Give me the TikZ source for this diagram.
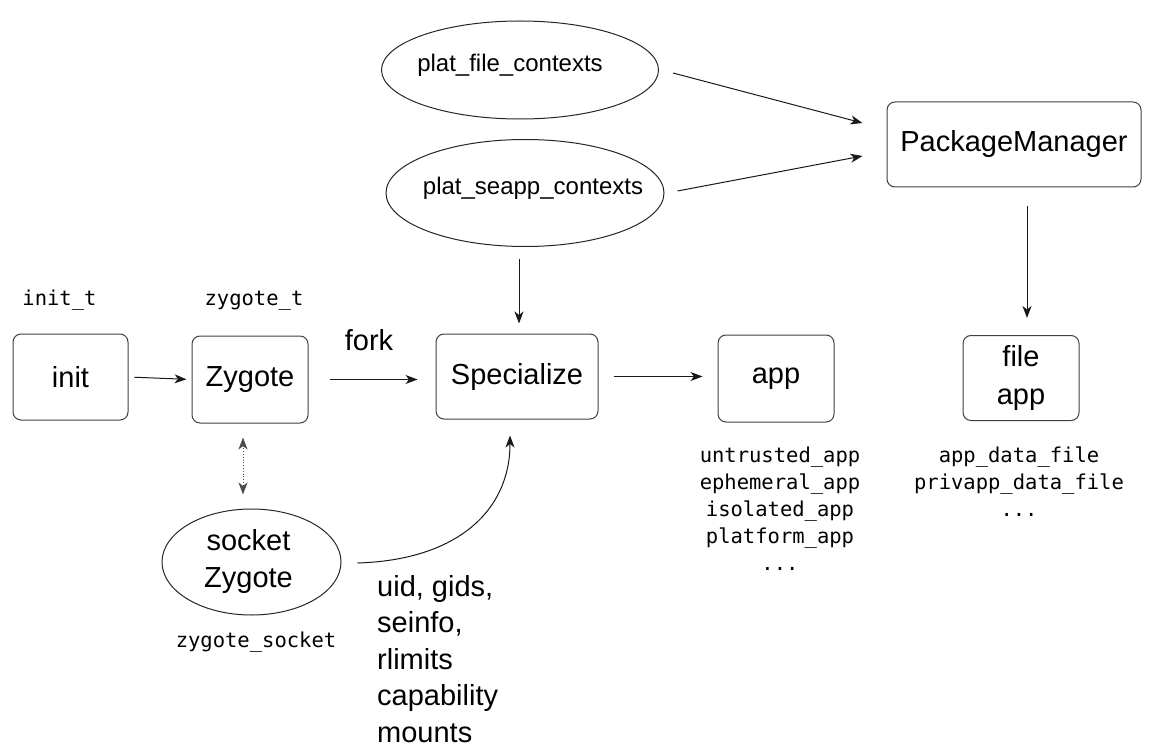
\documentclass[tikz,border=0pt]{standalone}
\usepackage{fontspec}
\setmainfont{Liberation Sans}
\newfontfamily\monof{DejaVu Sans Mono}
\usetikzlibrary{arrows.meta,shapes.geometric,calc}
\tikzset{
  box/.style={draw=black!75, line width=1pt, rounded corners=8pt, inner sep=0pt,
    font=\fontsize{29}{38}\selectfont, align=center},
  ell/.style={draw=black!85, line width=1pt, ellipse, inner sep=0pt},
  big/.style={font=\fontsize{29}{36.5}\selectfont, inner sep=0pt, align=left},
  mid/.style={font=\fontsize{24}{30}\selectfont, inner sep=0pt},
  mono/.style={font=\monof\fontsize{20.5}{27}\selectfont, inner sep=0pt, align=center},
  arr/.style={draw=black!90, line width=1pt, -{Stealth[length=12pt,width=9pt,inset=3.5pt]}},
  darr/.style={draw=black!70, line width=0.8pt, dotted,
    {Stealth[length=12pt,width=9pt,inset=3.5pt]}-{Stealth[length=12pt,width=9pt,inset=3.5pt]}}
}
\begin{document}
\begin{tikzpicture}[x=1pt,y=-1pt]
\useasboundingbox (0,0) rectangle (1153,746);
% boxes
\node[box, minimum width=115pt, minimum height=86pt] (init) at (70.5,377) {init};
\node[box, minimum width=116pt, minimum height=87pt] (zyg) at (250,379.5) {Zygote};
\node[box, minimum width=162pt, minimum height=85pt] (spec) at (517,376.5) {Specialize};
\node[box, minimum width=116pt, minimum height=87pt] (app) at (776,378.5) {app};
\node[box, minimum width=116pt, minimum height=85pt] (fapp) at (1021,378) {file\\app};
\node[box, minimum width=254pt, minimum height=85pt] (pm) at (1014,144.5) {PackageManager};
% ellipses
\node[ell, minimum width=277pt, minimum height=98pt] (e1) at (520,70) {};
\node[mid, anchor=base] (t1) at (510,72) {plat\_file\_contexts};
\node[ell, minimum width=278pt, minimum height=107pt] (e2) at (525,193) {};
\node[mid, anchor=base] (t2) at (533,195) {plat\_seapp\_contexts};
\node[ell, minimum width=179pt, minimum height=106pt] (sock) at (251.5,562) {};
\node[big, align=center, anchor=base] (tsock) at (248.5,587) {socket\\Zygote};
% labels
\node[mono, anchor=base] (linit) at (59.5,305) {init\_t};
\node[mono, anchor=base] (lzyg) at (254,305) {zygote\_t};
\node[mono, anchor=base] (lsock) at (256,647) {zygote\_socket};
\node[big, anchor=base] (fork) at (369,350) {fork};
\node[mono, anchor=base] (lapp) at (780,570) {untrusted\_app\\ephemeral\_app\\isolated\_app\\platform\_app\\...};
\node[mono, anchor=base] (lfile) at (1019,516) {app\_data\_file\\privapp\_data\_file\\...};
\node[big, anchor=base west] (uid) at (377,742) {uid, gids,\\seinfo,\\rlimits\\capability\\mounts};
% connectors
\draw[arr, shorten <=6pt, shorten >=5pt] (init.east) -- (zyg.west);
\draw[arr, shorten <=21pt, shorten >=18pt] (zyg.east) -- (zyg.east -| spec.west);
\draw[arr, shorten <=15pt, shorten >=15pt] (spec.east) -- (spec.east -| app.west);
\draw[arr] ([xshift=14pt,yshift=-3pt]e1.east) -- ([xshift=-24pt,yshift=21.5pt]pm.west);
\draw[arr] ([xshift=13pt,yshift=2pt]e2.east) -- ([xshift=-24pt,yshift=-11.5pt]pm.west);
\draw[arr] ([xshift=6pt,yshift=-18pt]fapp.north |- pm.south) -- ([xshift=6pt,yshift=17pt]fapp.north);
\draw[arr] ([xshift=2pt,yshift=-12pt]e2.south -| spec.north) -- ([xshift=2pt,yshift=10pt]spec.north);
\draw[darr] ([xshift=-7pt,yshift=-14pt]zyg.south) -- ([xshift=-8.5pt,yshift=14pt]sock.north);
\draw[arr] ([xshift=16pt,yshift=-1pt]sock.east) .. controls +(100,-3) and +(0,75) .. ([xshift=-7pt,yshift=-16pt]spec.south);
\end{tikzpicture}
\end{document}
